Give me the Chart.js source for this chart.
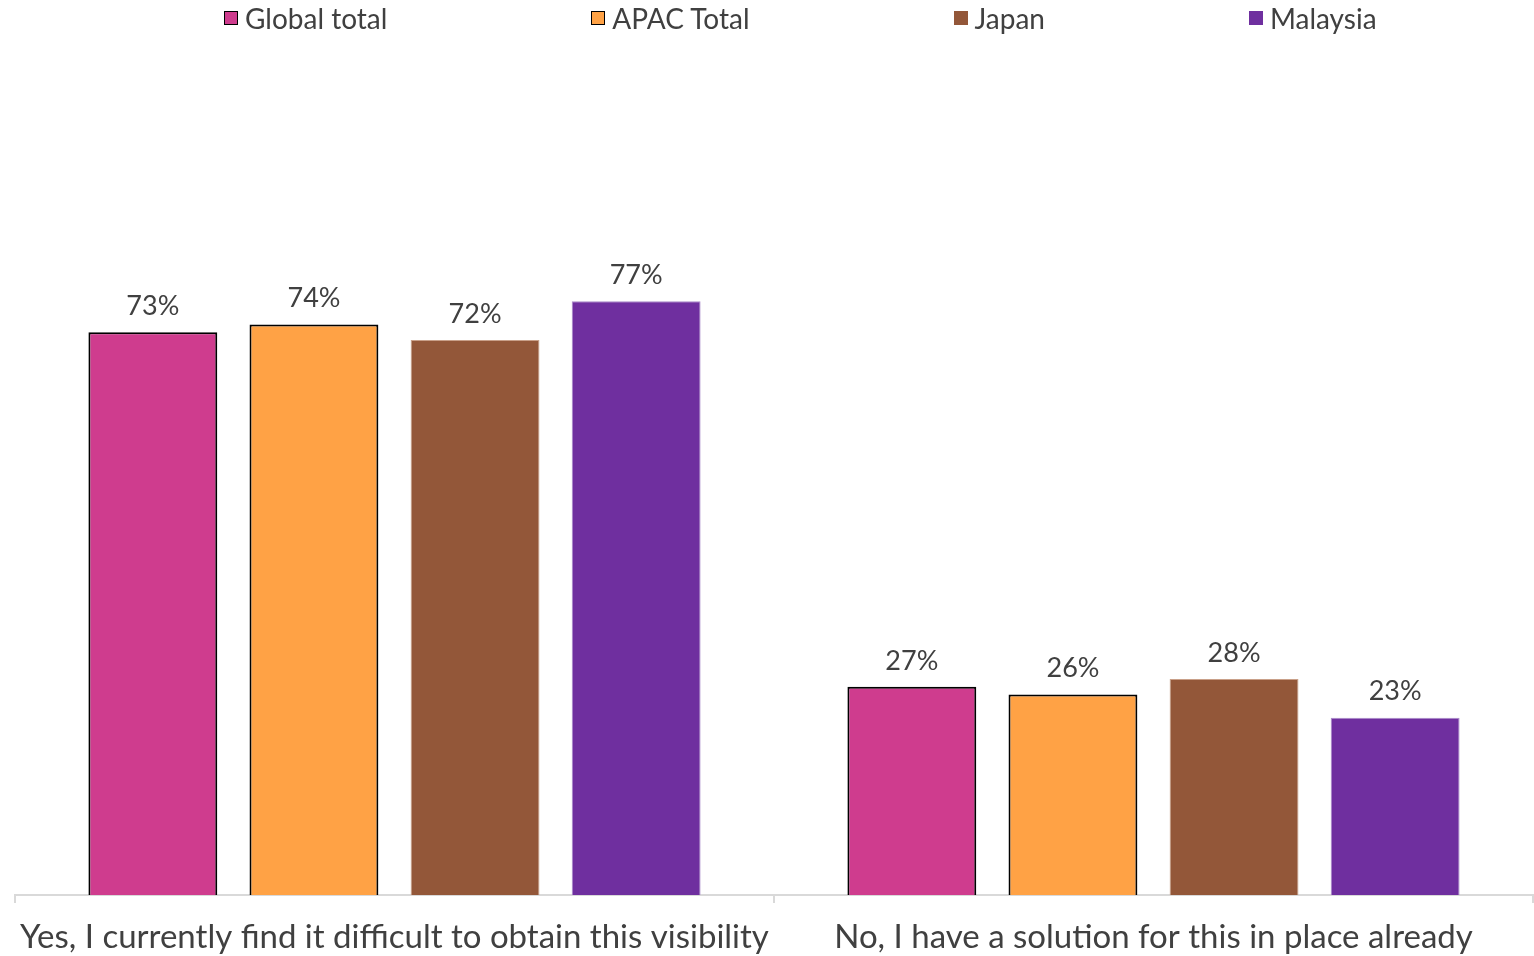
<!DOCTYPE html>
<html>
<head>
<meta charset="utf-8">
<script src="https://cdn.jsdelivr.net/npm/chart.js@4/dist/chart.umd.min.js"></script>
<style>
  html, body { margin: 0; padding: 0; background: #fff; }
  #wrap { position: relative; width: 1534px; height: 956px; }
  #legend { position: absolute; top: 1px; left: 224px; display: flex; gap: 204px;
            font-family: Lato, sans-serif; font-size: 28px; color: #404040; }
  .item { display: flex; align-items: center; white-space: nowrap; }
  .box { width: 12px; height: 12px; margin-right: 7px; }
</style>
</head>
<body>
<div id="wrap">
  <div id="legend"></div>
  <canvas id="chart" width="1534" height="956"></canvas>
</div>
<script>
const categories = ['Yes, I currently find it difficult to obtain this visibility', 'No, I have a solution for this in place already'];
const seriesNames = ['Global total', 'APAC Total', 'Japan', 'Malaysia'];
const globalTotal = [73, 27];
const apacTotal = [74, 26];
const japan = [72, 28];
const malaysia = [77, 23];

const fills = ['#CF3C8E', '#FFA245', '#935739', '#6F2F9F'];
const edges = ['#000000', '#000000', '#C9A089', '#A98BC9'];
const edgeWidths = [2, 2, 1, 1];
const allValues = [globalTotal, apacTotal, japan, malaysia];

// legend as html
const legendEl = document.getElementById('legend');
seriesNames.forEach((name, i) => {
    const item = document.createElement('div');
    item.className = 'item';
    const box = document.createElement('span');
    box.className = 'box';
    box.style.background = fills[i];
    box.style.border = edgeWidths[i] > 1 ? '1.5px solid #000' : '1px solid ' + fills[i];
    item.appendChild(box);
    item.appendChild(document.createTextNode(name));
    legendEl.appendChild(item);
});

const valueLabels = {
    id: 'valueLabels',
    afterDatasetsDraw(chart) {
        const ctx = chart.ctx;
        ctx.save();
        ctx.font = '27px Lato, sans-serif';
        ctx.fillStyle = '#404040';
        ctx.textAlign = 'center';
        ctx.textBaseline = 'middle';
        chart.data.datasets.forEach((ds, di) => {
            chart.getDatasetMeta(di).data.forEach((bar, i) => {
                ctx.fillText(ds.data[i] + '%', bar.x, bar.y - 26);
            });
        });
        ctx.restore();
    }
};

new Chart(document.getElementById('chart'), {
    type: 'bar',
    data: {
        labels: categories,
        datasets: seriesNames.map((name, i) => ({
            label: name,
            data: allValues[i],
            backgroundColor: fills[i],
            borderColor: edges[i],
            borderWidth: edgeWidths[i],
            categoryPercentage: 0.849,
            barPercentage: 0.8
        }))
    },
    options: {
        responsive: false,
        animation: false,
        layout: { padding: { left: 15, right: 1, top: 124, bottom: 0 } },
        plugins: { legend: { display: false }, tooltip: { enabled: false } },
        scales: {
            y: { display: false, min: 0, max: 100 },
            x: {
                afterFit(scale) { scale.height = 61; },
                grid: { offset: true, drawOnChartArea: false, drawTicks: true, tickLength: 8, color: '#d9d9d9', lineWidth: 2 },
                border: { display: true, color: '#d9d9d9', width: 2 },
                ticks: { color: '#404040', font: { family: 'Lato, sans-serif', size: 33 }, padding: 15, maxRotation: 0, autoSkip: false }
            }
        }
    },
    plugins: [valueLabels]
});
</script>
</body>
</html>
